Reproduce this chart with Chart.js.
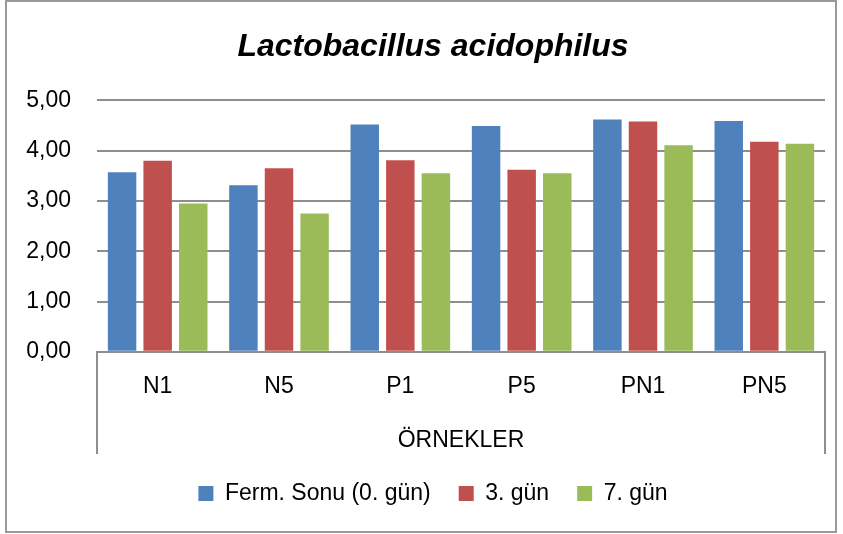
<!DOCTYPE html>
<html>
<head>
  <title>Lactobacillus acidophilus</title>
  <script src="https://cdn.jsdelivr.net/npm/chart.js"></script>
  <style>
    html, body {
      margin: 0;
      padding: 0;
      background: #ffffff;
    }
    canvas {
      display: block;
    }
  </style>
</head>
<body>
  <canvas id="grafik" width="843" height="534"></canvas>

  <script>
    var ornekler = ['N1', 'N5', 'P1', 'P5', 'PN1', 'PN5'];
    var gun0 = [3.57, 3.31, 4.52, 4.49, 4.62, 4.59]; // Ferm. Sonu (0. gün)
    var gun3 = [3.80, 3.65, 3.81, 3.62, 4.58, 4.18];
    var gun7 = [2.95, 2.75, 3.55, 3.55, 4.11, 4.14];
    var yEtiketleri = ['0,00', '1,00', '2,00', '3,00', '4,00', '5,00'];

    var yaziTipi = "'Liberation Sans', Arial, sans-serif";
    var cizgiRengi = '#8e8e8e';

    // dis cerceve ve kategori kutusu (ÖRNEKLER) cizgileri
    var cerceve = {
      id: 'cerceve',
      afterDraw: function (chart) {
        var c = chart.ctx;
        var alan = chart.chartArea;
        var x = chart.scales.x;
        c.save();
        c.strokeStyle = cizgiRengi;
        c.lineWidth = 2;
        c.beginPath();
        c.moveTo(Math.round(alan.left), alan.bottom);
        c.lineTo(Math.round(alan.left), x.bottom);
        c.moveTo(Math.round(alan.right), alan.bottom);
        c.lineTo(Math.round(alan.right), x.bottom);
        c.stroke();
        c.strokeStyle = '#9a9a9a';
        c.strokeRect(6, 1, chart.width - 13, chart.height - 3);
        c.restore();
      }
    };

    var ctx = document.getElementById('grafik').getContext('2d');
    var grafik = new Chart(ctx, {
      type: 'bar',
      data: {
        labels: ornekler,
        datasets: [{
          label: 'Ferm. Sonu (0. gün)',
          data: gun0,
          backgroundColor: '#4F81BD'
        }, {
          label: '3. gün',
          data: gun3,
          backgroundColor: '#C0504D'
        }, {
          label: '7. gün',
          data: gun7,
          backgroundColor: '#9BBB59'
        }]
      },
      options: {
        responsive: false,
        animation: false,
        layout: {
          padding: { left: 23, right: 0, top: 0, bottom: 19 }
        },
        datasets: {
          bar: {
            categoryPercentage: 0.88,
            barPercentage: 0.8
          }
        },
        scales: {
          x: {
            grid: { display: false, drawTicks: false },
            border: { display: true, color: cizgiRengi, width: 2 },
            ticks: {
              color: '#000',
              padding: 21,
              font: { family: yaziTipi, size: 23 }
            },
            title: {
              display: true,
              text: 'ÖRNEKLER',
              color: '#000',
              font: { family: yaziTipi, size: 23 },
              padding: { top: 5, bottom: 0 }
            }
          },
          y: {
            min: 0,
            max: 5,
            afterFit: function (s) {
              s.width = 74;
            },
            grid: {
              color: cizgiRengi,
              lineWidth: 2,
              drawTicks: false
            },
            border: { display: false },
            ticks: {
              stepSize: 1,
              color: '#000',
              padding: 26,
              font: { family: yaziTipi, size: 23 },
              callback: function (deger, i) {
                return yEtiketleri[i];
              }
            }
          },
          // sag bosluk: cizim alanini sagdan daraltir, baslik/lejant ortasi degismez
          sagBosluk: {
            axis: 'y',
            position: 'right',
            display: true,
            grid: { display: false, drawTicks: false },
            border: { display: false },
            ticks: { display: false },
            afterFit: function (s) {
              s.width = 18;
            }
          }
        },
        plugins: {
          title: {
            display: true,
            text: 'Lactobacillus acidophilus',
            color: '#000',
            font: { family: yaziTipi, size: 32, weight: 'bold', style: 'italic' },
            padding: { top: 28, bottom: 34 }
          },
          legend: {
            position: 'bottom',
            labels: {
              color: '#000',
              boxWidth: 15,
              boxHeight: 15,
              padding: 28,
              font: { family: yaziTipi, size: 23 }
            }
          },
          tooltip: { enabled: false }
        }
      },
      plugins: [cerceve]
    });
  </script>
</body>
</html>
